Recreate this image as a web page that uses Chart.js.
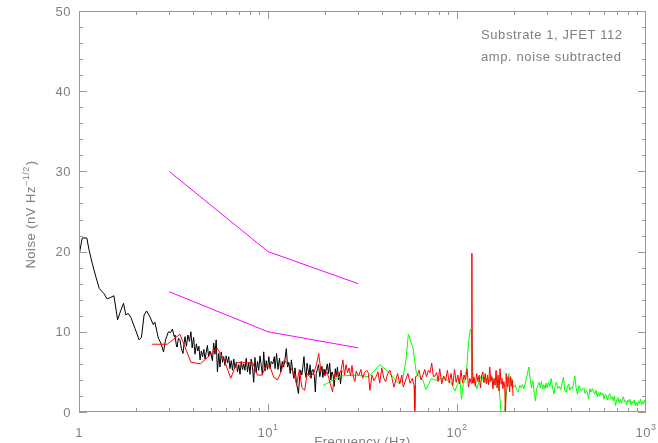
<!DOCTYPE html>
<html>
<head>
<meta charset="utf-8">
<script src="https://cdn.jsdelivr.net/npm/chart.js@4/dist/chart.umd.min.js"></script>
<style>
html,body{margin:0;padding:0;background:#fff;overflow:hidden;}
canvas{display:block;}
</style>
</head>
<body>
<canvas id="c" width="658" height="443"></canvas>
<script>
// ---------- data ----------
const blackFreq = [1.00,1.04,1.10,1.13,1.17,1.22,1.28,1.35,1.41,1.46,1.53,1.60,1.66,1.72,1.77,1.82,1.88,1.98,2.08,2.14,2.21,2.28,2.37,2.47,2.52,2.63,2.71,2.80,2.87,2.97,3.05,3.12,3.19,
3.22,3.27,3.30,3.36,3.42,3.48,3.55,3.60,3.64,3.70,3.77,3.84,3.91,3.97,4.04,4.11,4.18,4.25,4.31,4.37,4.44,4.51,4.58,4.64,4.71,4.78,4.85,4.93,5.00,5.08,5.16,5.24,5.32,5.40,5.49,5.57,5.66,5.75,5.83,5.92,6.01,6.11,6.20,6.29,6.39,6.49,6.59,6.69,6.80,6.90,7.01,7.11,7.22,7.33,7.44,7.55,7.67,7.79,7.91,8.03,8.15,8.28,8.40,8.53,8.66,8.80,8.93,9.07,9.21,9.35,9.49,9.64,9.79,9.94,10.1,10.25,
10.4,10.6,10.8,10.9,11.1,11.3,11.5,11.7,11.9,12.1,12.3,12.5,12.7,12.9,13.1,13.3,13.5,13.7,13.9,14.1,14.3,14.5,14.7,14.9,15.1,15.3,15.5,15.7,15.9,16.1,16.3,16.5,16.7,16.9,17.1,17.3,17.6,17.8,18.0,18.3,18.5,18.8,19.0,19.3,19.5,19.8,20.0,20.3,20.6,20.9,21.2,21.5,21.8,22.1,22.4,22.7,23.0,23.3,23.6,23.9,24.2,24.6];
const blackNoise = [19.5,21.7,21.7,20.2,18.7,17.1,15.4,14.8,14.1,14.25,14.5,11.5,12.6,13.55,12.1,12.3,11.8,10.4,9.0,9.3,12.1,12.6,11.9,10.9,11.2,9.2,8.6,7.5,9.0,10.0,9.9,10.35,9.4,
9.6,8.4,8.1,9.2,9.0,7.9,7.3,8.6,9.4,8.2,9.6,8.8,10.0,8.0,9.3,7.2,8.5,7.6,8.2,6.5,7.6,6.9,7.8,6.6,7.4,8.3,6.9,7.6,7.2,6.4,8.6,7.2,9.0,5.0,7.3,5.6,7.5,6.2,6.9,5.8,7.0,6.1,6.9,5.4,6.4,5.2,6.6,5.5,6.2,5.0,5.9,4.7,6.3,5.3,6.0,5.2,6.7,5.0,6.2,4.7,6.6,5.5,3.7,6.8,4.9,6.3,5.2,7.0,5.8,4.6,7.5,5.1,6.4,5.3,6.9,5.4,6.3,
6.0,6.9,5.4,7.3,5.3,6.7,5.0,6.3,5.6,6.6,7.9,5.6,6.2,4.8,6.5,5.1,4.2,5.5,4.0,3.0,2.3,4.4,5.2,4.6,5.7,6.9,5.0,4.3,6.1,5.2,4.6,5.9,4.2,5.2,5.3,4.4,2.5,4.8,5.4,5.9,4.4,5.0,5.7,4.3,5.3,4.6,5.2,6.0,4.8,6.1,4.0,5.0,4.6,3.2,5.4,4.4,5.6,4.0,4.9,3.5,5.2,2.3];

const redFreq = [2.44,2.93,3.42,3.91,4.39,4.88,5.37,5.86,6.35,6.84,7.32,7.81,8.30,8.79,9.28,9.77,10.25,10.74,11.23,11.72,12.21,12.70,13.18,13.67,14.16,14.65,15.14,15.63,16.11,16.60,17.09,17.58,18.07,18.55,19.04,19.53,20.02,20.51,21.00,21.48,21.97,22.46,22.95,23.44,23.93,24.41,24.90,25.39,25.88,26.37,26.86,27.34,27.83,28.32,28.81,29.30,29.79,
30.3,31.0,31.7,32.5,33.3,34.0,34.6,35.5,36.4,37.3,38.2,39.0,40.0,41.0,41.9,43.0,44.1,45.2,46.4,47.5,48.5,49.8,51.0,52.0,53.5,55.0,56.5,58.0,59.3,59.8,60.3,61.5,63.0,64.5,66.0,67.5,69.0,70.5,72.0,73.5,75.0,76.5,78.0,79.5,81.0,83.0,85.0,87.0,89.0,91.0,93.0,95.0,97.0,99.0,101,103,105,107,109,111,113,115,117,119,119.8,120.0,120.3,121.5,123,125,127,129,131,133,135,137,139,141,143,145,147,149,151,153,155,157,159,161,163,165,167,169,171,173,175,177,179,180.5,182,184,186,188,190,192,194,196,198];
const redNoise = [8.45,8.45,9.7,6.2,6.0,7.0,8.0,6.5,4.2,6.15,6.15,6.15,6.15,4.6,4.6,5.65,5.65,4.3,4.0,5.0,6.5,5.9,5.5,4.9,3.4,5.3,3.0,2.7,4.8,4.4,4.6,5.0,6.0,7.3,5.1,5.4,4.5,5.0,4.2,3.3,2.5,4.7,4.4,5.0,4.8,5.3,6.5,4.6,5.9,4.9,5.5,4.5,5.8,4.3,3.8,5.1,4.7,
4.6,5.3,4.2,5.0,5.2,4.8,2.7,4.6,3.9,4.4,5.0,3.6,5.5,4.2,3.8,4.8,5.2,4.3,3.1,4.0,4.8,3.5,4.6,3.1,4.0,4.8,3.6,4.2,3.3,-1.0,4.4,4.5,5.2,4.0,4.6,5.3,4.4,5.2,4.9,6.1,4.4,4.5,4.9,3.8,5.4,3.5,4.5,3.9,5.2,3.6,4.8,3.3,5.3,3.7,4.6,3.5,5.2,3.6,4.6,4.0,5.4,3.1,4.2,3.6,4.0,19.8,4.0,3.6,4.4,3.2,4.8,3.8,4.6,3.0,4.5,5.0,3.7,4.8,3.5,4.6,3.4,5.6,3.8,4.4,2.9,4.2,3.4,5.2,3.0,4.6,2.6,5.4,3.5,4.2,2.9,3.8,3.0,-1.0,4.8,3.2,4.4,3.9,2.5,4.4,3.2,4.0,2.0];

const greenFreq = [19.5,24.4,29.3,34.2,39.1,43.9,48.8,51.5,53.7,55.3,58.6,61.0,63.5,66.0,68.4,70.8,73.2,76.0,79.6,83.0,86.2,90.0,93.0,97.4,100,103.5,105.7,108,110,112.5,115,117.5,119.5,121.5,124.5,127.5,131,135,139,143,147,151,155,159,163,167,169,172,177,183,188,191,195,199,203,207,211,215,219,222,226,230,235,240,244,248,252,256,260,264,268,272,276,280,284,288,292,296,300,305,310,315,320,326,331,336,342,348,354,360,366,372,378,384,390,396,402,408,414,420,427,434,441,448,455,462,469,476,483,490,497,504,512,520,528,536,544,552,560,568,576,584,592,600,608,617,626,635,644,653,662,671,680,690,700,710,720,730,740,750,760,770,780,790,800,811,822,833,844,855,866,877,888,900,912,924,936,948,960,972,984,996,1000];
const greenNoise = [3.3,4.5,4.6,4.4,5.9,4.9,3.6,3.9,6.5,9.7,7.9,4.8,4.3,4.0,2.8,3.5,4.2,4.0,4.0,4.2,4.1,3.9,3.7,2.6,3.3,4.2,1.6,3.5,4.0,5.4,8.5,10.3,10.0,4.2,3.6,2.9,4.0,4.6,3.6,4.2,3.5,4.6,3.9,3.3,4.0,2.6,1.6,-1.0,-1.0,2.5,4.8,3.6,4.2,3.0,3.4,2.8,2.5,3.3,3.0,3.4,2.9,3.6,4.6,5.6,4.2,3.0,3.9,2.4,1.4,2.9,3.3,3.7,3.0,3.8,2.8,3.4,2.9,3.6,3.0,3.7,3.2,4.15,3.1,2.25,3.3,3.7,2.9,3.2,2.8,3.6,4.35,2.6,2.45,3.2,3.5,2.7,3.1,2.9,3.6,4.5,3.0,2.2,3.3,3.0,2.6,2.9,3.0,2.3,2.7,2.4,1.6,2.9,2.5,2.9,2.5,2.2,2.7,1.9,2.4,2.0,2.45,2.1,2.3,1.6,2.2,2.0,1.5,2.1,2.3,1.7,1.9,1.4,2.0,0.8,1.5,1.8,1.2,1.6,1.1,1.5,1.9,1.3,1.4,0.9,1.5,1.2,1.6,0.9,1.3,1.1,1.5,0.8,1.2,0.77,1.4,1.0,1.6,0.9,1.3,1.0,1.5,1.1,1.3];

const limitFreq = [3, 10, 30];
const upperLimit = [30, 20, 16];
const lowerLimit = [15, 10, 8];

const yTickValues = [0, 10, 20, 30, 40, 50];
const yTickLabels = ['0', '10', '20', '30', '40', '50'];
const xTickValues = [1, 10, 100, 1000];
const xTickBase = ['1', '10', '10', '10'];
const xTickExp = ['', '1', '2', '3'];
const xTitle = 'Frequency (Hz)';
const yTitleMain = 'Noise (nV Hz';
const yTitleSup = '\u22121/2';
const yTitleEnd = ')';
const noteLines = ['Substrate 1, JFET 112', 'amp. noise subtracted'];

// ---------- chart ----------
const pts = (xs, ys) => xs.map((x, i) => ({x: x, y: ys[i]}));
const AXIS = '#999999';
const TEXT = '#808080';
const FONT = '13px "Liberation Sans", Arial, sans-serif';
const SUPFONT = '9px "Liberation Sans", Arial, sans-serif';

const framePlugin = {
  id: 'frame',
  afterDraw(chart) {
    const ctx = chart.ctx, a = chart.chartArea;
    const xs = chart.scales.x, ys = chart.scales.y;
    ctx.save();
    ctx.strokeStyle = AXIS;
    ctx.lineWidth = 1;
    ctx.strokeRect(Math.round(a.left) + 0.5, Math.round(a.top) + 0.5,
                   Math.round(a.right - a.left) - 1, Math.round(a.bottom - a.top) - 1);
    ctx.beginPath();
    // y ticks (every 2, major every 10), both sides, inward
    for (let v = 0; v <= 50; v += 2) {
      const p = Math.round(ys.getPixelForValue(v)) + 0.5;
      const len = (v % 10 === 0) ? 8 : 4;
      ctx.moveTo(a.left, p); ctx.lineTo(a.left + len, p);
      ctx.moveTo(a.right, p); ctx.lineTo(a.right - len, p);
    }
    // x ticks (log decades), bottom and top, inward
    for (let d = 1; d <= 100; d *= 10) {
      for (let m = 1; m <= 9; m++) {
        const p = Math.round(xs.getPixelForValue(m * d)) + 0.5;
        const len = (m === 1) ? 8 : 4;
        ctx.moveTo(p, a.bottom); ctx.lineTo(p, a.bottom - len);
        ctx.moveTo(p, a.top); ctx.lineTo(p, a.top + len);
      }
    }
    ctx.stroke();

    ctx.fillStyle = TEXT;
    ctx.letterSpacing = '0.5px';
    // y tick labels
    ctx.font = FONT;
    ctx.textAlign = 'right';
    ctx.textBaseline = 'middle';
    yTickValues.forEach((v, i) => {
      ctx.fillText(yTickLabels[i], a.left - 8, ys.getPixelForValue(v) + 1);
    });
    // x tick labels with exponents
    ctx.textBaseline = 'alphabetic';
    ctx.textAlign = 'left';
    xTickValues.forEach((v, i) => {
      ctx.font = FONT;
      const wb = ctx.measureText(xTickBase[i]).width;
      ctx.font = SUPFONT;
      const we = xTickExp[i] ? ctx.measureText(xTickExp[i]).width : 0;
      const x0 = xs.getPixelForValue(v) - (wb + we) / 2;
      ctx.font = FONT;
      ctx.fillText(xTickBase[i], x0, a.bottom + 25);
      if (xTickExp[i]) {
        ctx.font = SUPFONT;
        ctx.fillText(xTickExp[i], x0 + wb, a.bottom + 18);
      }
    });
    // x title (partly below the page edge, as in the reference)
    ctx.font = FONT;
    ctx.textAlign = 'center';
    ctx.fillText(xTitle, (a.left + a.right) / 2, a.bottom + 34);
    // y title (rotated, with superscript)
    ctx.save();
    ctx.translate(35, 215);
    ctx.rotate(-Math.PI / 2);
    ctx.textAlign = 'left';
    ctx.font = FONT;
    const w1 = ctx.measureText(yTitleMain).width;
    const w3 = ctx.measureText(yTitleEnd).width;
    ctx.font = SUPFONT;
    const w2 = ctx.measureText(yTitleSup).width;
    let x = -(w1 + w2 + w3) / 2;
    ctx.font = FONT;
    ctx.fillText(yTitleMain, x, 0);
    ctx.font = SUPFONT;
    ctx.fillText(yTitleSup, x + w1, -6);
    ctx.font = FONT;
    ctx.fillText(yTitleEnd, x + w1 + w2 + 1, 0);
    ctx.restore();
    // annotation
    ctx.font = FONT;
    ctx.letterSpacing = '0.6px';
    ctx.textAlign = 'left';
    ctx.fillText(noteLines[0], 481, 39);
    ctx.fillText(noteLines[1], 481, 61);
    ctx.restore();
  }
};

new Chart(document.getElementById('c'), {
  type: 'line',
  data: {
    datasets: [
      {label: 'black', data: pts(blackFreq, blackNoise), borderColor: '#000000', order: 4},
      {label: 'green', data: pts(greenFreq, greenNoise), borderColor: '#00ff00', order: 3},
      {label: 'red', data: pts(redFreq, redNoise), borderColor: '#ff0000', order: 2},
      {label: 'upper', data: pts(limitFreq, upperLimit), borderColor: '#ff00ff', order: 1},
      {label: 'lower', data: pts(limitFreq, lowerLimit), borderColor: '#ff00ff', order: 1}
    ]
  },
  options: {
    responsive: false,
    animation: false,
    events: [],
    layout: {padding: {left: 79, right: 12, top: 11, bottom: 31}},
    elements: {
      point: {radius: 0},
      line: {borderWidth: 1, tension: 0, borderJoinStyle: 'round', fill: false}
    },
    plugins: {legend: {display: false}, tooltip: {enabled: false}},
    scales: {
      x: {type: 'logarithmic', min: 1, max: 1000, display: false},
      y: {type: 'linear', min: 0, max: 50, display: false}
    }
  },
  plugins: [framePlugin]
});
</script>
</body>
</html>
